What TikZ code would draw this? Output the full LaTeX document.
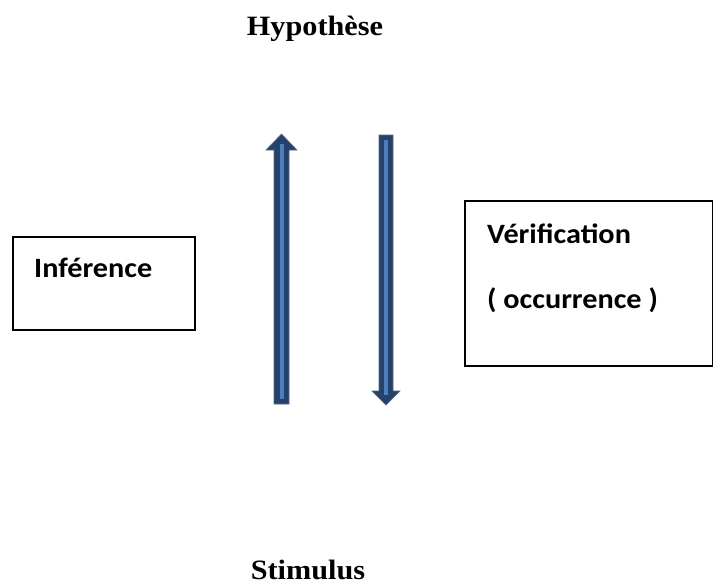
\documentclass[tikz,border=0pt]{standalone}
\usepackage{fontspec}
\newfontfamily\boxfont{Carlito}
\newfontfamily\titlefont{Liberation Serif}
\definecolor{arrowdark}{HTML}{26426A}
\definecolor{arrowlight}{HTML}{4A7EBE}
\begin{document}
\begin{tikzpicture}[x=1pt,y=-1pt,
  box/.style={draw=black,line width=1.3pt},
  boxtext/.style={anchor=base west,inner sep=0pt,font=\boxfont\bfseries\fontsize{28}{32}\selectfont},
  title/.style={anchor=base,inner sep=0pt,font=\titlefont\bfseries\fontsize{28}{32}\selectfont},
  shaft/.style={fill=arrowdark,draw=arrowdark!80!white,line width=0.6pt},
  stripe/.style={draw=arrowlight,line width=4pt}]
\useasboundingbox (0,0) rectangle (713,584);
\clip (0,0) rectangle (713,584);

% titles
\node[title] (hyp) at (315,35) {\scalebox{1.08}[1]{Hypothèse}};
\node[title] (stim) at (308,579) {\scalebox{1.08}[1]{Stimulus}};

% boxes
\draw[box] (13,237) rectangle (195,330);
\node[boxtext] (inf) at (34,277) {\scalebox{1.08}[1]{Inférence}};
\draw[box] (465,201) rectangle (712.5,366);
\node[boxtext] (ver) at (487,243) {\scalebox{1.08}[1]{Vérification}};
\node[boxtext] (occ) at (487,308) {\scalebox{1.08}[1]{( occurrence )}};

% upward block arrow
\coordinate (upbase) at (281.5,404);
\coordinate (uptip) at (281.5,134);
\draw[shaft] (274,404) -- (274,150) -- (266,150) -- (uptip) -- (297,150) -- (289,150) -- (289,404) -- cycle;
\draw[stripe] ([yshift=5]upbase) -- ([yshift=-10]uptip);

% downward block arrow
\coordinate (dntop) at (386,135);
\coordinate (dntip) at (386,405);
\draw[shaft] (379,135) -- (393,135) -- (393,391) -- (400,391) -- (dntip) -- (372,391) -- (379,391) -- cycle;
\draw[stripe] ([yshift=-5]dntop) -- ([yshift=10]dntip);
\end{tikzpicture}
\end{document}
